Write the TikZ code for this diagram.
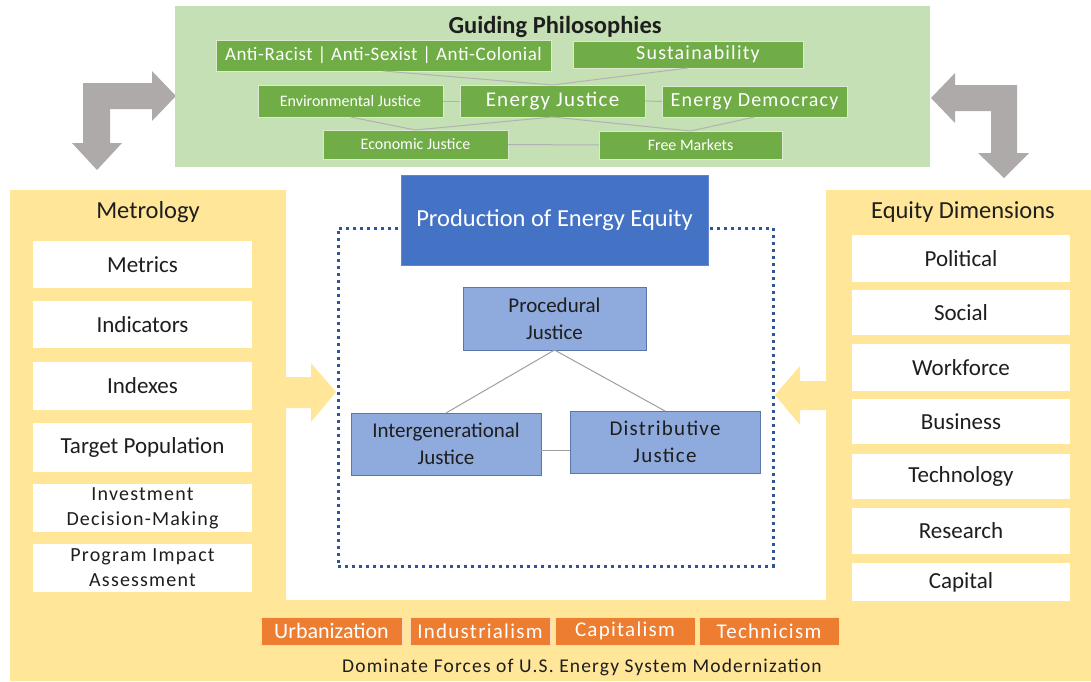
\documentclass[tikz,border=0pt]{standalone}
\usepackage{fontspec}
\setmainfont{Carlito}
\newfontfamily\spc[LetterSpace=6]{Carlito}
\newfontfamily\spcs[LetterSpace=3]{Carlito}
\definecolor{gbg}{HTML}{C5E0B4}
\definecolor{grn}{HTML}{70AD47}
\definecolor{ylw}{HTML}{FFE699}
\definecolor{bblue}{HTML}{4472C4}
\definecolor{lblue}{HTML}{8FAADC}
\definecolor{dblue}{HTML}{2F5597}
\definecolor{orng}{HTML}{ED7D31}
\definecolor{garrow}{HTML}{AEAAAA}
\definecolor{txt}{HTML}{1E1E1E}
\newcommand\fsz[2]{\fontsize{#1}{#2}\selectfont}
\tikzset{
  base/.style={inner sep=0pt, outer sep=0pt},
  gbox/.style={base, fill=grn, draw=white!75!grn, line width=1pt, text=white},
  wbox/.style={base, fill=white, text=txt, align=center, minimum width=219pt, font=\fsz{23}{25}},
  wbox2/.style={wbox, font=\spc\fsz{20}{25}},
  bluebox/.style={base, fill=lblue, draw=dblue!80, line width=1pt, text=txt, align=center, font=\fsz{21}{27}},
  obox/.style={base, fill=orng, draw=white!70!orng, line width=1pt, text=white, minimum height=28pt, font=\spc\fsz{21}{24}},
  conn/.style={draw=gray!75, line width=1pt},
  gconn/.style={draw=gray!60, line width=1pt},
  hdr/.style={base, text=txt, font=\fsz{24.5}{27}}
}
\begin{document}
\begin{tikzpicture}[x=1pt,y=-1pt]
\useasboundingbox (0,0) rectangle (1091,681);
\fill[white] (0,0) rectangle (1091,681);
% yellow U
\fill[ylw] (10,190) -- (286,190) -- (286,600) -- (826,600) -- (826,190) -- (1091,190) -- (1091,681) -- (10,681) -- cycle;
% yellow arrows
\fill[ylw] (286,377) -- (311,377) -- (311,363) -- (336,392) -- (311,422) -- (311,408) -- (286,408) -- cycle;
\fill[ylw] (826,381) -- (800,381) -- (800,366) -- (775,395) -- (800,425) -- (800,410) -- (826,410) -- cycle;
% gray bent arrows
\fill[garrow] (83,83) -- (152,83) -- (152,71) -- (176,96) -- (152,121) -- (152,109) -- (110,109) -- (110,143) -- (122,143) -- (97,170) -- (72,143) -- (83,143) -- cycle;
\fill[garrow] (1017,85) -- (955,85) -- (955,73) -- (931,98) -- (955,123) -- (955,111) -- (991,111) -- (991,153) -- (978,153) -- (1004,178) -- (1029,153) -- (1017,153) -- cycle;

% green panel
\node[base, fill=gbg, minimum width=755pt, minimum height=161pt] (gp) at (552.5,86.5) {};
\node[hdr, font=\bfseries\fsz{24.5}{27}] (gtitle) at (555,27) {Guiding Philosophies};
\node[gbox, minimum width=335pt, minimum height=31pt, font=\spcs\fsz{19}{22}] (ar) at (383.5,55.5) {Anti-Racist | Anti-Sexist | Anti-Colonial};
\node[gbox, minimum width=230pt, minimum height=27pt, font=\spc\fsz{20}{22}] (sus) at (688,54.5) {\hspace*{20pt}Sustainability};
\node[gbox, minimum width=185pt, minimum height=32pt, font=\fsz{16}{18}] (env) at (350.5,101) {Environmental Justice};
\node[gbox, minimum width=185pt, minimum height=32pt, font=\spc\fsz{21}{24}] (ej) at (552.5,101) {Energy Justice};
\node[gbox, minimum width=185pt, minimum height=31pt, font=\spc\fsz{20}{22}] (ed) at (754.5,101.5) {Energy Democracy};
\node[gbox, minimum width=185pt, minimum height=29pt, font=\fsz{16}{18}] (econ) at (415.5,144.5) {Economic Justice};
\node[gbox, minimum width=183pt, minimum height=28pt, font=\fsz{16}{18}] (fm) at (690.5,145) {Free Markets};
\draw[gconn] (ar.south) -- (ej.north);
\draw[gconn] (sus.south) -- (ej.north);
\draw[gconn] (env.east) -- (ej.west);
\draw[gconn] (ej.east) -- (ed.west);
\draw[gconn] (env.south) -- (econ.north);
\draw[gconn] (ej.south) -- (econ.north);
\draw[gconn] (ej.south) -- (fm.north);
\draw[gconn] (ed.south) -- (fm.north);
\draw[gconn] (econ.east) -- (fm.west);

% headers
\node[hdr] (metro) at (148,212) {Metrology};
\node[hdr] (eqd) at (963,212) {Equity Dimensions};

% left column
\node[wbox, minimum height=47pt] (m1) at (142.5,264.5) {Metrics};
\node[wbox, minimum height=47pt] (m2) at (142.5,324.5) {Indicators};
\node[wbox, minimum height=48pt] (m3) at (142.5,386) {Indexes};
\node[wbox, minimum height=49pt] (m4) at (142.5,447.5) {Target Population};
\node[wbox2, minimum height=48pt] (m5) at (142.5,508) {Investment\\Decision-Making};
\node[wbox2, minimum height=48pt] (m6) at (142.5,568) {Program Impact\\Assessment};

% right column
\node[wbox, minimum width=218pt, minimum height=47pt] (d1) at (961,258.5) {Political};
\node[wbox, minimum width=218pt, minimum height=45pt] (d2) at (961,312.5) {Social};
\node[wbox, minimum width=218pt, minimum height=47pt] (d3) at (961,367.5) {Workforce};
\node[wbox, minimum width=218pt, minimum height=45pt] (d4) at (961,421.5) {Business};
\node[wbox, minimum width=218pt, minimum height=45pt] (d5) at (961,476.5) {Technology};
\node[wbox, minimum width=218pt, minimum height=46pt] (d6) at (961,531) {Research};
\node[wbox, minimum width=218pt, minimum height=38pt] (d7) at (961,582) {Capital};

% centre
\node[base, draw=dblue, line width=3pt, dash pattern=on 3pt off 4pt, minimum width=435pt, minimum height=338pt] (frame) at (555.5,397) {};
\node[base, fill=bblue, draw=bblue!85!white, line width=1pt, text=white, minimum width=307pt, minimum height=90pt, font=\fsz{24.5}{27}] (prod) at (554.5,220) {Production of Energy Equity};
\node[bluebox, minimum width=183pt, minimum height=63pt] (proc) at (554.5,318.5) {Procedural\\Justice};
\node[bluebox, minimum width=190pt, minimum height=62pt] (inter) at (446,444) {Intergenerational\\Justice};
\node[bluebox, minimum width=190pt, minimum height=62pt, font=\spc\fsz{21}{27}] (dist) at (665,442) {Distributive\\Justice};
\draw[conn] (proc.south) -- (inter.north);
\draw[conn] (proc.south) -- (dist.north);
\draw[conn] ([yshift=-6pt]inter.east) -- ([yshift=-6pt]inter.east -| dist.west);

% bottom forces
\node[obox, minimum width=141pt, font=\fsz{22}{24}] (o1) at (331.5,631) {Urbanization};
\node[obox, minimum width=140pt] (o2) at (480,631) {Industrialism};
\node[obox, minimum width=140pt] (o3) at (625,631) {Capitalism};
\node[obox, minimum width=140pt] (o4) at (769,631) {Technicism};
\node[hdr, font=\spc\fsz{19.5}{22}] (dom) at (582,667) {Dominate Forces of U.S. Energy System Modernization};
\end{tikzpicture}
\end{document}
